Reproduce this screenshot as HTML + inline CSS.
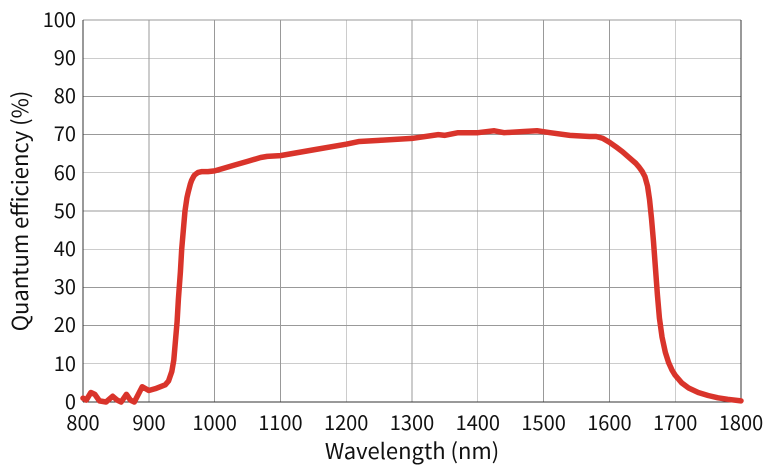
<!DOCTYPE html>
<html><head><style>
body{margin:0;background:#fff;}
svg{display:block;font-family:"Noto Sans CJK JP","Liberation Sans",sans-serif;}
</style></head><body>
<svg width="769" height="470" viewBox="0 0 769 470">
<g stroke="#999" stroke-width="0.8" shape-rendering="crispEdges">
<line x1="149" y1="20" x2="149" y2="402"/><line x1="214.6" y1="20" x2="214.6" y2="402"/>
<line x1="280.4" y1="20" x2="280.4" y2="402"/><line x1="346.2" y1="20" x2="346.2" y2="402"/>
<line x1="412" y1="20" x2="412" y2="402"/><line x1="477.8" y1="20" x2="477.8" y2="402"/>
<line x1="543.6" y1="20" x2="543.6" y2="402"/><line x1="609.4" y1="20" x2="609.4" y2="402"/>
<line x1="675.2" y1="20" x2="675.2" y2="402"/>
<line x1="83" y1="363.8" x2="741" y2="363.8"/><line x1="83" y1="325.6" x2="741" y2="325.6"/>
<line x1="83" y1="287.4" x2="741" y2="287.4"/><line x1="83" y1="249.2" x2="741" y2="249.2"/>
<line x1="83" y1="211" x2="741" y2="211"/><line x1="83" y1="172.8" x2="741" y2="172.8"/>
<line x1="83" y1="134.6" x2="741" y2="134.6"/><line x1="83" y1="96.4" x2="741" y2="96.4"/>
<line x1="83" y1="58.2" x2="741" y2="58.2"/><line x1="83" y1="20" x2="741" y2="20"/>
</g>
<g stroke="#333" stroke-width="1.2" fill="none" shape-rendering="crispEdges">
<line x1="83" y1="20" x2="83" y2="402"/><line x1="741" y1="20" x2="741" y2="402"/>
<line x1="83" y1="402" x2="741" y2="402"/>
</g>
<g transform="translate(83,402) scale(0.658,-3.82) translate(-800,0)">
<polyline fill="none" stroke="#d9342b" stroke-width="5.5" vector-effect="non-scaling-stroke" stroke-linejoin="round" stroke-linecap="round"
points="800,1 805,0.5 812,2.5 818,2 825,0.3 835,0 845,1.5 852,0.5 858,0 866,2 872,0.5 878,0 884,2 890,4 895,3.5 900,3 910,3.5 925,4.5 930,5.5 935,8 938,11 940,15 943,21 945,27 948,34 950,40 953,46 955,50 958,53.5 960,55 963,57 965,58 968,59 970,59.5 975,60.1 980,60.3 990,60.3 1000,60.5 1010,61 1030,62 1050,63 1070,64 1080,64.3 1100,64.5 1150,66 1200,67.5 1220,68.2 1250,68.5 1300,69 1340,70 1350,69.8 1370,70.5 1400,70.5 1425,71 1440,70.5 1470,70.8 1490,71 1510,70.5 1540,69.8 1570,69.5 1580,69.5 1590,69 1600,68 1610,66.8 1620,65.5 1630,64 1640,62.5 1645,61.5 1650,60.3 1654,59 1658,56.5 1661,53 1664,48 1667,42 1670,35 1673,28 1676,22 1680,17 1685,13 1690,10.3 1695,8.4 1700,7 1710,5 1720,3.7 1735,2.5 1750,1.7 1765,1.1 1780,0.7 1800,0.3"/>
</g>
<g font-size="20" fill="#111" text-anchor="end">
<text x="76" y="409">0</text><text x="76" y="371">10</text><text x="76" y="332">20</text>
<text x="76" y="294">30</text><text x="76" y="256">40</text><text x="76" y="218">50</text>
<text x="76" y="180">60</text><text x="76" y="141">70</text><text x="76" y="103">80</text>
<text x="76" y="65">90</text><text x="76" y="27">100</text>
</g>
<g font-size="20" fill="#111" text-anchor="middle">
<text x="83" y="430">800</text><text x="149" y="430">900</text><text x="214.6" y="430">1000</text>
<text x="280.4" y="430">1100</text><text x="346.2" y="430">1200</text><text x="412" y="430">1300</text>
<text x="477.8" y="430">1400</text><text x="543.6" y="430">1500</text><text x="609.4" y="430">1600</text>
<text x="675.2" y="430">1700</text><text x="741" y="430">1800</text>
</g>
<text x="412" y="459" font-size="22" text-anchor="middle" fill="#111">Wavelength (nm)</text>
<text transform="translate(28,211) rotate(-90)" font-size="22" text-anchor="middle" fill="#111">Quantum efficiency (%)</text>
</svg>
</body></html>
